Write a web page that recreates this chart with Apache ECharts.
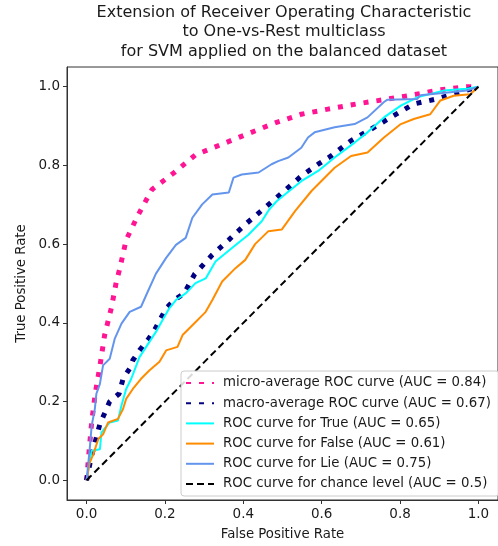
<!DOCTYPE html>
<html>
<head>
<meta charset="utf-8">
<script src="https://cdn.jsdelivr.net/npm/echarts@6/dist/echarts.min.js"></script>
<style>html,body{margin:0;padding:0;background:#fff;}#c{width:498px;height:546px;}</style>
</head>
<body>
<div id="c"></div>
<script>
const titleLines = ['Extension of Receiver Operating Characteristic', 'to One-vs-Rest multiclass', 'for SVM applied on the balanced dataset'];
const tickValues = [0, 0.2, 0.4, 0.6, 0.8, 1.0];
const names = [
  'micro-average ROC curve (AUC = 0.84)',
  'macro-average ROC curve (AUC = 0.67)',
  'ROC curve for True (AUC = 0.65)',
  'ROC curve for False (AUC = 0.61)',
  'ROC curve for Lie (AUC = 0.75)',
  'ROC curve for chance level (AUC = 0.5)'
];

const microFpr = [0, 0.006, 0.013, 0.022, 0.034, 0.046, 0.063, 0.076, 0.085, 0.101, 0.132, 0.167, 0.224, 0.278, 0.346, 0.413, 0.481, 0.548, 0.616, 0.688, 0.759, 0.827, 0.903, 0.970, 1.0];
const microTpr = [0, 0.07, 0.148, 0.22, 0.29, 0.369, 0.437, 0.505, 0.539, 0.611, 0.675, 0.739, 0.782, 0.827, 0.854, 0.881, 0.908, 0.930, 0.943, 0.956, 0.967, 0.978, 0.992, 1.0, 1.0];

const macroFpr = [0, 0.012, 0.034, 0.059, 0.083, 0.093, 0.110, 0.118, 0.135, 0.156, 0.173, 0.203, 0.224, 0.249, 0.276, 0.321, 0.363, 0.405, 0.439, 0.479, 0.548, 0.591, 0.624, 0.675, 0.726, 0.776, 0.835, 0.894, 0.953, 1.0];
const macroTpr = [0, 0.06, 0.143, 0.200, 0.220, 0.258, 0.284, 0.305, 0.330, 0.356, 0.381, 0.437, 0.458, 0.475, 0.524, 0.573, 0.611, 0.650, 0.679, 0.713, 0.773, 0.803, 0.824, 0.863, 0.892, 0.922, 0.956, 0.969, 0.986, 1.0];

const trueFpr = [0, 0.008, 0.013, 0.034, 0.038, 0.059, 0.080, 0.089, 0.101, 0.114, 0.135, 0.152, 0.177, 0.194, 0.211, 0.228, 0.253, 0.278, 0.304, 0.329, 0.371, 0.413, 0.447, 0.466, 0.485, 0.506, 0.548, 0.591, 0.633, 0.684, 0.717, 0.759, 0.802, 0.844, 0.911, 0.970, 1.0];
const trueTpr = [0, 0.05, 0.075, 0.079, 0.122, 0.147, 0.152, 0.190, 0.232, 0.258, 0.313, 0.339, 0.377, 0.407, 0.437, 0.458, 0.475, 0.501, 0.513, 0.556, 0.590, 0.624, 0.658, 0.688, 0.709, 0.726, 0.760, 0.786, 0.820, 0.858, 0.884, 0.922, 0.952, 0.973, 0.990, 0.995, 1.0];

const falseFpr = [0, 0.008, 0.017, 0.030, 0.042, 0.055, 0.080, 0.093, 0.101, 0.118, 0.139, 0.160, 0.186, 0.203, 0.232, 0.245, 0.270, 0.304, 0.321, 0.346, 0.380, 0.405, 0.430, 0.464, 0.498, 0.532, 0.574, 0.633, 0.675, 0.717, 0.759, 0.802, 0.835, 0.877, 0.903, 0.937, 0.979, 1.0];
const falseTpr = [0, 0.045, 0.066, 0.105, 0.117, 0.147, 0.156, 0.181, 0.207, 0.232, 0.258, 0.279, 0.301, 0.330, 0.339, 0.369, 0.394, 0.428, 0.458, 0.505, 0.539, 0.560, 0.600, 0.633, 0.637, 0.684, 0.735, 0.794, 0.824, 0.833, 0.871, 0.905, 0.918, 0.930, 0.965, 0.977, 0.981, 1.0];

const lieFpr = [0, 0.008, 0.013, 0.021, 0.025, 0.034, 0.042, 0.059, 0.072, 0.089, 0.110, 0.139, 0.156, 0.177, 0.203, 0.228, 0.253, 0.270, 0.295, 0.321, 0.363, 0.375, 0.396, 0.439, 0.472, 0.489, 0.515, 0.548, 0.565, 0.582, 0.633, 0.684, 0.717, 0.759, 0.768, 0.844, 0.852, 0.928, 0.970, 1.0];
const lieTpr = [0, 0.08, 0.139, 0.181, 0.220, 0.245, 0.292, 0.309, 0.360, 0.398, 0.428, 0.441, 0.479, 0.525, 0.565, 0.598, 0.616, 0.667, 0.701, 0.726, 0.731, 0.769, 0.777, 0.782, 0.803, 0.811, 0.820, 0.845, 0.871, 0.884, 0.897, 0.905, 0.922, 0.961, 0.967, 0.969, 0.978, 0.986, 0.990, 1.0];

const chanceFpr = [0, 1];
const chanceTpr = [0, 1];

const zip = (a, b) => a.map((v, i) => [v, b[i]]);
const FONT = 'DejaVu Sans';
const FS = 13.3;

const chart = echarts.init(document.getElementById('c'), null, {renderer: 'canvas'});

function mk(name, xs, ys, color, width, type) {
  return {
    name: name, type: 'line', data: zip(xs, ys), symbol: 'none', smooth: false,
    lineStyle: {color: color, width: width, type: type, cap: 'butt'},
    itemStyle: {color: 'rgba(0,0,0,0)', borderWidth: 0, opacity: 0},
    emphasis: {disabled: true}, animation: false
  };
}

const axisCommon = {
  type: 'value', min: -0.05, max: 1.05,
  nameLocation: 'middle',
  nameTextStyle: {fontFamily: FONT, fontSize: FS, color: '#1a1a1a'},
  splitLine: {show: false},
  axisLine: {show: true, onZero: false, lineStyle: {color: '#333333', width: 1}},
  axisTick: {show: true, length: 4, inside: false, customValues: tickValues, lineStyle: {color: '#333333'}},
  axisLabel: {customValues: tickValues, formatter: v => v.toFixed(1), fontFamily: FONT, fontSize: 13.5, color: '#1a1a1a', margin: 7}
};

const option = {
  animation: false,
  backgroundColor: '#ffffff',
  title: {
    text: titleLines.join('\n'),
    left: 284, top: 3, padding: 0, textAlign: 'center',
    textStyle: {fontFamily: FONT, fontSize: 16, fontWeight: 'normal', color: '#1a1a1a', lineHeight: 19.5}
  },
  grid: {left: 67, top: 67, width: 434, height: 433, show: true, borderColor: '#333333', borderWidth: 1, backgroundColor: 'transparent'},
  xAxis: Object.assign({}, axisCommon, {name: 'False Positive Rate', nameGap: 28}),
  yAxis: Object.assign({}, axisCommon, {name: 'True Positive Rate', nameGap: 35, nameRotate: 90}),
  legend: {
    orient: 'vertical', left: 181, top: 371,
    padding: [5, 8, 5, 4],
    itemWidth: 28, itemHeight: 14, itemGap: 6.2,
    borderColor: '#cccccc', borderWidth: 1, borderRadius: 3,
    backgroundColor: 'rgba(255,255,255,0.85)',
    itemStyle: {opacity: 0},
    textStyle: {fontFamily: FONT, fontSize: FS, lineHeight: 14, color: '#1a1a1a', padding: [0, 0, 0, 4]},
    data: names
  },
  series: [
    mk(names[0], microFpr, microTpr, '#ff1493', 5, [5, 8]),
    mk(names[1], macroFpr, macroTpr, '#000080', 5, [5, 8]),
    mk(names[2], trueFpr, trueTpr, '#00ffff', 2, 'solid'),
    mk(names[3], falseFpr, falseTpr, '#ff8c00', 2, 'solid'),
    mk(names[4], lieFpr, lieTpr, '#6495ed', 2, 'solid'),
    mk(names[5], chanceFpr, chanceTpr, '#000000', 2, [7, 4])
  ]
};
chart.setOption(option);
</script>
</body>
</html>
